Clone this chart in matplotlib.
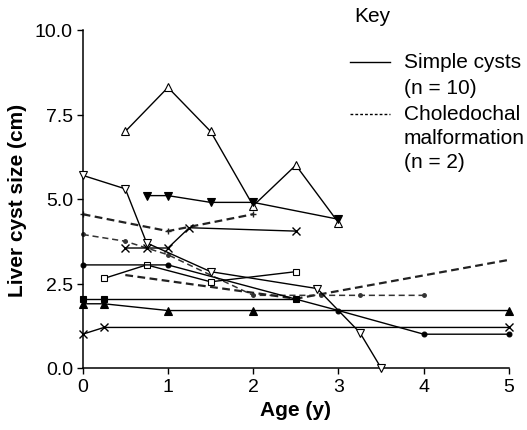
import matplotlib
matplotlib.use("Agg")
import matplotlib.pyplot as plt
from matplotlib.lines import Line2D

plt.rcParams['font.family'] = ['Liberation Sans', 'DejaVu Sans']

# Simple cysts (solid lines)
tri_up_x = [0.5, 1.0, 1.5, 2.0, 2.5, 3.0]
tri_up_y = [7.0, 8.3, 7.0, 4.8, 6.0, 4.3]

tri_down_x = [0.0, 0.5, 0.75, 1.5, 2.75, 3.25, 3.5]
tri_down_y = [5.7, 5.3, 3.7, 2.85, 2.35, 1.05, 0.0]

tri_down_f_x = [0.75, 1.0, 1.5, 2.0, 3.0]
tri_down_f_y = [5.1, 5.1, 4.9, 4.9, 4.4]

cross_hi_x = [0.5, 0.75, 1.0, 1.25, 2.5]
cross_hi_y = [3.55, 3.55, 3.55, 4.15, 4.05]

square_x = [0.25, 0.75, 1.5, 2.5]
square_y = [2.65, 3.05, 2.55, 2.85]

dot_x = [0.0, 1.0, 3.0, 4.0, 5.0]
dot_y = [3.05, 3.05, 1.7, 1.0, 1.0]

square_f_x = [0.0, 0.25, 2.5]
square_f_y = [2.05, 2.05, 2.05]

tri_up_f_x = [0.0, 0.25, 1.0, 2.0, 5.0]
tri_up_f_y = [1.9, 1.9, 1.7, 1.7, 1.7]

cross_lo_x = [0.0, 0.25, 5.0]
cross_lo_y = [1.0, 1.2, 1.2]

# Choledochal malformation (dashed lines)
chol_a_x = [0.0, 1.0, 2.0]
chol_a_y = [4.55, 4.05, 4.55]

chol_b_x = [0.0, 0.5, 1.0, 2.0, 2.8, 3.25, 4.0]
chol_b_y = [3.95, 3.75, 3.35, 2.15, 2.15, 2.15, 2.15]

chol_c_x = [0.5, 2.5, 5.0]
chol_c_y = [2.75, 2.05, 3.2]

x_ticks = [0, 1, 2, 3, 4, 5]
y_ticks = [0.0, 2.5, 5.0, 7.5, 10.0]

W, H = 527, 431
fig = plt.figure(figsize=(W / 100, H / 100), dpi=100)
ax = fig.add_axes([82.7 / W, 1 - 369 / H, (509 - 82.7) / W, (369 - 31) / H])

solid = dict(color='black', lw=1.0, clip_on=False, zorder=3)
open_m = dict(mfc='white', mec='black', mew=0.8)
fill_m = dict(mfc='black', mec='black', mew=0.8)

ax.plot(tri_up_x, tri_up_y, marker='^', ms=6, **open_m, **solid)
ax.plot(tri_down_x, tri_down_y, marker='v', ms=6, **open_m, **solid)
ax.plot(tri_down_f_x, tri_down_f_y, marker='v', ms=6, **fill_m, **solid)
ax.plot(cross_hi_x, cross_hi_y, marker='x', ms=6, mec='black', mew=1.0, **solid)
ax.plot(square_x, square_y, marker='s', ms=5, **open_m, **solid)
ax.plot(dot_x, dot_y, marker='o', ms=3.5, **fill_m, **solid)
ax.plot(square_f_x, square_f_y, marker='s', ms=5, **fill_m, **solid)
ax.plot(tri_up_f_x, tri_up_f_y, marker='^', ms=6, **fill_m, **solid)
ax.plot(cross_lo_x, cross_lo_y, marker='x', ms=6, mec='black', mew=1.0, **solid)

ax.plot(chol_a_x, chol_a_y, color='#222222', lw=1.6, ls=(0, (3.5, 2)),
        marker='+', ms=4, mew=1.0, clip_on=False, zorder=2)
ax.plot(chol_b_x, chol_b_y, color='#333333', lw=1.1, ls=(0, (4, 2.5)),
        marker='o', ms=2.5, mfc='#333333', mec='#333333', clip_on=False, zorder=2)
ax.plot(chol_c_x, chol_c_y, color='#222222', lw=1.6, ls=(0, (3.5, 2)),
        clip_on=False, zorder=2)

ax.set_xlim(0, 5)
ax.set_ylim(0, 10)
ax.set_xticks(x_ticks)
ax.set_yticks(y_ticks)
ax.set_yticklabels([f"{v:.1f}" for v in y_ticks])
ax.tick_params(direction='out', length=4, width=1, labelsize=14, pad=3)
for s in ('top', 'right'):
    ax.spines[s].set_visible(False)
for s in ('left', 'bottom'):
    ax.spines[s].set_linewidth(1.1)

ax.set_xlabel('Age (y)', fontsize=15, fontweight='bold', labelpad=4)
ax.set_ylabel('Liver cyst size (cm)', fontsize=15, fontweight='bold', labelpad=6)

# Key
def fx(px):
    return px / W

def fy(py):
    return 1 - py / H

fig.text(fx(354), fy(17), 'Key', fontsize=15, va='center', ha='left')
fig.add_artist(Line2D([fx(350), fx(390)], [fy(63), fy(63)], color='black', lw=1.0))
fig.add_artist(Line2D([fx(350), fx(390)], [fy(115), fy(115)], color='black', lw=1.0,
                      ls=(0, (2, 1.5))))
for txt, py in [('Simple cysts', 63), ('(n = 10)', 88), ('Choledochal', 115),
                ('malformation', 139), ('(n = 2)', 163)]:
    fig.text(fx(404), fy(py), txt, fontsize=15, va='center', ha='left')

fig.savefig('out.png', dpi=100)
